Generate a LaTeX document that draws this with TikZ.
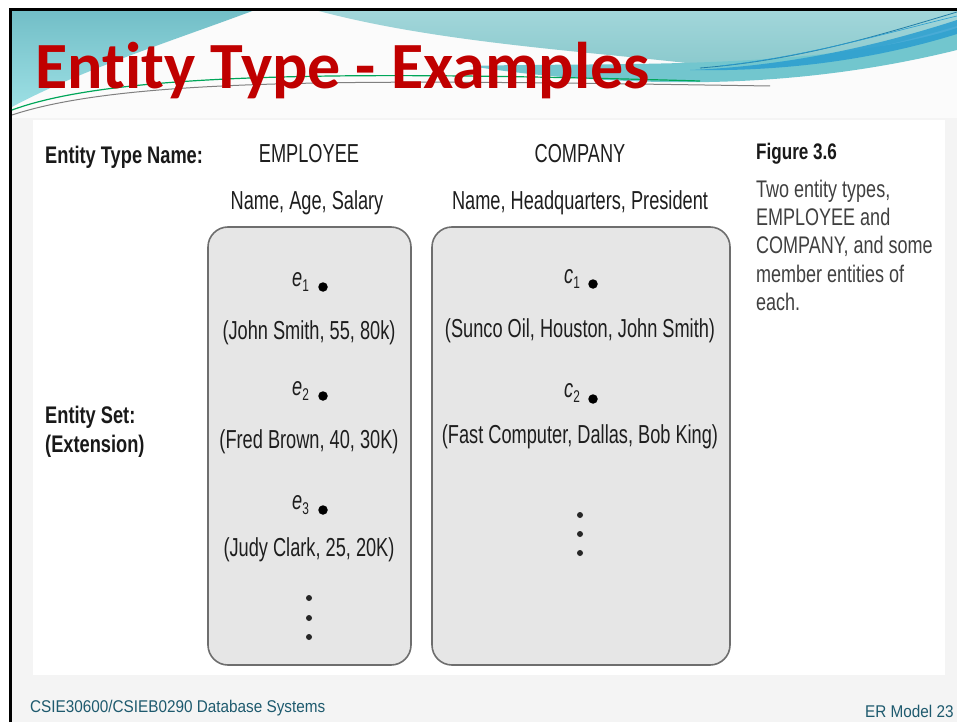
\documentclass[tikz,border=0pt]{standalone}
\usepackage{fontspec}
\setmainfont{Liberation Sans}
\newfontfamily\figfont[FakeStretch=0.70]{Liberation Sans}
\newfontfamily\labfont[FakeStretch=0.76]{Liberation Sans}
\newfontfamily\capfont[FakeStretch=0.75]{Liberation Sans}
\newfontfamily\footfont[FakeStretch=0.90]{Liberation Sans}
\newfontfamily\ttlfont[Ligatures=NoCommon]{Carlito}
\definecolor{tealA}{HTML}{72BEC7}
\definecolor{tealB}{HTML}{A2D6DA}
\definecolor{tealC}{HTML}{72C6CE}
\definecolor{swoosh}{HTML}{2A9ED0}
\definecolor{slidebg}{HTML}{F4F4F4}
\definecolor{titlered}{HTML}{C00000}
\definecolor{boxfill}{HTML}{E6E6E6}
\definecolor{boxline}{HTML}{6E6E6E}
\definecolor{figtext}{HTML}{1E1E1E}
\definecolor{captext}{HTML}{404040}
\definecolor{foottext}{HTML}{1E5A6E}
\tikzset{
  txt/.style={inner sep=0pt, anchor=base, text=figtext, font=\figfont\fontsize{26}{31}\selectfont},
  lab/.style={inner sep=0pt, anchor=base west, text=black!90, font=\labfont\bfseries\fontsize{24}{29}\selectfont},
  capline/.style={inner sep=0pt, anchor=base west, text=captext, font=\capfont\fontsize{24}{28}\selectfont},
  elab/.style={inner sep=0pt, anchor=base west, text=figtext, font=\figfont\fontsize{26}{30}\selectfont},
  setbox/.style={draw=boxline, line width=1.6pt, fill=boxfill, rounded corners=20pt, inner sep=0pt},
  bigdot/.style={circle, fill=black, inner sep=0pt, minimum size=9.5pt},
  smalldot/.style={circle, fill=black!85, inner sep=0pt, minimum size=6pt},
  foot/.style={inner sep=0pt, anchor=base west, text=foottext, font=\footfont\fontsize{17}{20}\selectfont}
}
\newcommand{\ent}[2]{{\itshape #1}\raisebox{-5pt}{\fontsize{17}{18}\selectfont #2}}
\begin{document}
\begin{tikzpicture}[x=1pt,y=-1pt]
\useasboundingbox (0,0) rectangle (957,722);
\fill[white] (0,0) rectangle (957,722);
% slide background
\fill[slidebg] (10,10) rectangle (957,722);
\fill[white!60!slidebg] (10,10) rectangle (957,118);
% header waves
\shade[top color=tealA, bottom color=tealA!80!cyan!60!white] (10,10) -- (255,10) .. controls (175,40) and (80,70) .. (10,108) -- cycle;
\shade[top color=tealB, bottom color=tealB!85!teal] (315,10) -- (957,10) -- (957,26) .. controls (860,55) and (780,68) .. (712,66) .. controls (600,52) and (440,44) .. (315,10) -- cycle;
\fill[tealC] (470,66) .. controls (600,62) and (820,72) .. (957,28) -- (957,50) .. controls (860,74) and (760,84) .. (660,82) .. controls (580,80) and (520,74) .. (470,66) -- cycle;
\fill[swoosh, opacity=0.85] (690,70) .. controls (790,66) and (880,45) .. (957,20) -- (957,34) .. controls (880,58) and (790,72) .. (690,70) -- cycle;
\draw[swoosh!80!black, line width=0.8pt] (700,68) .. controls (800,60) and (880,35) .. (957,12);
\draw[swoosh, line width=0.6pt] (720,66) .. controls (810,56) and (890,32) .. (957,16);
\draw[teal!70!green, line width=1.2pt] (12,110) .. controls (120,70) and (380,72) .. (700,81);
\draw[gray, line width=1pt] (12,115) .. controls (130,76) and (380,80) .. (770,86);
% frame lines
\draw[black, line width=3pt] (10,722) -- (10,10) -- (957,10);
% title
\node[inner sep=0pt, anchor=base west, text=titlered, font=\ttlfont\bfseries\fontsize{66}{70}\selectfont] (title) at (35,89) {Entity Type - Examples};
% figure panel
\fill[white] (33,120) rectangle (945,675);
% boxes
\node[setbox, minimum width=203pt, minimum height=438pt] (ebox) at (309.5,446) {};
\node[setbox, minimum width=298pt, minimum height=438pt] (cbox) at (581,446) {};
% left labels
\node[lab] (tname) at (45,164) {Entity Type Name:};
\node[lab] (eset) at (45,423) {Entity Set:};
\node[lab] (ext) at (45,452) {(Extension)};
% headers
\node[txt] (emp) at (309,163) {EMPLOYEE};
\node[txt] (comp) at (580,163) {COMPANY};
\node[txt] (eattr) at (307,209) {Name, Age, Salary};
\node[txt] (cattr) at (580,209) {Name, Headquarters, President};
% employee entities
\node[elab] (e1) at (292,286) {\ent{e}{1}};
\node[bigdot] (d1) at (323,287) {};
\node[txt] (t1) at (309,339) {(John Smith, 55, 80k)};
\node[elab] (e2) at (292,395) {\ent{e}{2}};
\node[bigdot] (d2) at (323,396) {};
\node[txt] (t2) at (309,448) {(Fred Brown, 40, 30K)};
\node[elab] (e3) at (292,509) {\ent{e}{3}};
\node[bigdot] (d3) at (323,510) {};
\node[txt] (t3) at (309,556) {(Judy Clark, 25, 20K)};
\node[smalldot] (ev1) at (309,598) {};
\node[smalldot] (ev2) at (309,618) {};
\node[smalldot] (ev3) at (309,637) {};
% company entities
\node[elab] (c1) at (564,283) {\ent{c}{1}};
\node[bigdot] (cd1) at (593,284) {};
\node[txt] (ct1) at (580,337) {(Sunco Oil, Houston, John Smith)};
\node[elab] (c2) at (564,397) {\ent{c}{2}};
\node[bigdot] (cd2) at (593,399) {};
\node[txt] (ct2) at (580,443) {(Fast Computer, Dallas, Bob King)};
\node[smalldot] (cv1) at (580,515) {};
\node[smalldot] (cv2) at (580,534) {};
\node[smalldot] (cv3) at (580,553) {};
% caption
\node[inner sep=0pt, anchor=base west, text=black!90, font=\labfont\bfseries\fontsize{22.5}{26}\selectfont] (fig) at (756,160) {Figure 3.6};
\node[capline] (cap1) at (756,197) {Two entity types,};
\node[capline] (cap2) at (756,225) {EMPLOYEE and};
\node[capline] (cap3) at (756,253) {COMPANY, and some};
\node[capline] (cap4) at (756,282) {member entities of};
\node[capline] (cap5) at (756,310) {each.};
% footer
\node[foot] (course) at (30,712) {CSIE30600/CSIEB0290 Database Systems};
\node[foot] (page) at (865,717) {ER Model 23};
\end{tikzpicture}
\end{document}
